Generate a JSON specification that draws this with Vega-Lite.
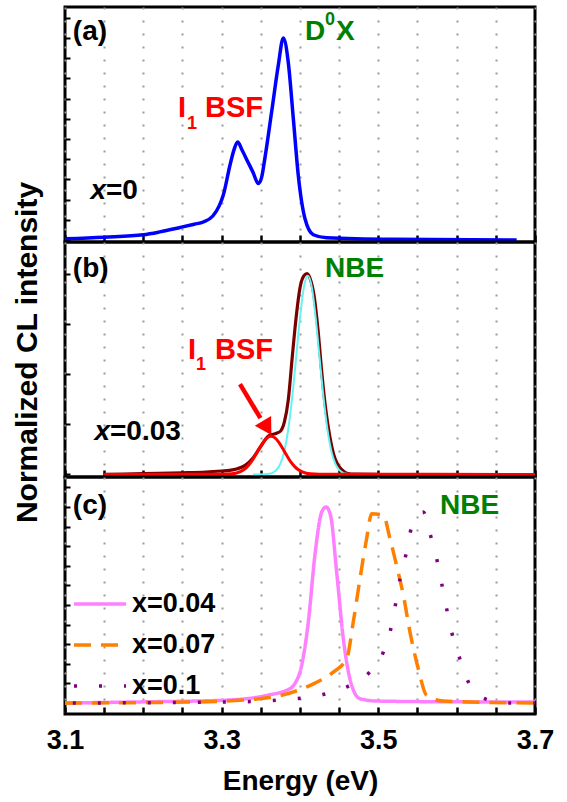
{
  "$schema": "https://vega.github.io/schema/vega-lite/v6.json",
  "padding": {"left": 10, "top": 5, "right": 5, "bottom": 0},
  "spacing": 0,
  "bounds": "flush",
  "config": {
    "font": "Liberation Sans",
    "view": {"stroke": "black", "strokeWidth": 3},
    "axis": {"labelFont": "Liberation Sans", "titleFont": "Liberation Sans", "labelFontWeight": "bold", "titleFontWeight": "bold", "labelColor": "black", "titleColor": "black"},
    "text": {"font": "Liberation Sans", "fontWeight": "bold", "fontSize": 28, "align": "left", "baseline": "alphabetic"}
  },
  "vconcat": [
    {
      "width": 470, "height": 235,
      "layer": [
        {
          "data": {"values": [
            {"E": 3.1, "v": 0.006}, {"E": 3.15, "v": 0.014}, {"E": 3.2, "v": 0.026}, {"E": 3.221, "v": 0.04},
            {"E": 3.247, "v": 0.062}, {"E": 3.265, "v": 0.078}, {"E": 3.2766, "v": 0.089}, {"E": 3.289, "v": 0.12},
            {"E": 3.297, "v": 0.17}, {"E": 3.302, "v": 0.221}, {"E": 3.3106, "v": 0.37}, {"E": 3.316, "v": 0.45},
            {"E": 3.3204, "v": 0.485}, {"E": 3.326, "v": 0.445}, {"E": 3.333, "v": 0.39}, {"E": 3.34, "v": 0.335},
            {"E": 3.3468, "v": 0.279}, {"E": 3.351, "v": 0.31}, {"E": 3.355, "v": 0.40}, {"E": 3.3638, "v": 0.634},
            {"E": 3.3723, "v": 0.865}, {"E": 3.3787, "v": 1.0}, {"E": 3.385, "v": 0.88}, {"E": 3.3915, "v": 0.60},
            {"E": 3.3978, "v": 0.32}, {"E": 3.4064, "v": 0.105}, {"E": 3.417, "v": 0.026}, {"E": 3.434, "v": 0.011},
            {"E": 3.519, "v": 0.003}, {"E": 3.6766, "v": 0.0}
          ]},
          "mark": {"type": "line", "color": "#0000ff", "strokeWidth": 3.5, "interpolate": "monotone"},
          "encoding": {
            "x": {"field": "E", "type": "quantitative", "scale": {"domain": [3.1, 3.7], "nice": false, "zero": false},
                  "axis": {"values": [3.1,3.15,3.2,3.25,3.3,3.35,3.4,3.45,3.5,3.55,3.6,3.65,3.7], "tickCount": 30, "labels": false, "title": null, "domain": false, "grid": true, "gridDash": [2, 11], "gridColor": "#9a9a9a", "gridWidth": 2, "tickSize": -7, "tickWidth": 2.5, "tickColor": "black"}},
            "y": {"field": "v", "type": "quantitative", "scale": {"domain": [-0.01, 1.153], "nice": false, "zero": false},
                  "axis": {"values": [0,0.1,0.2,0.3,0.4,0.5,0.6,0.7,0.8,0.9,1.0,1.1], "tickCount": 30, "labels": false, "title": null, "domain": false, "grid": false, "tickSize": -5, "tickWidth": 2, "tickColor": "black", "minExtent": 0}}
          }
        },
        {"data": {"values": [{}]}, "mark": {"type": "text", "text": "(a)", "color": "black"}, "encoding": {"x": {"datum": 3.110}, "y": {"datum": 0.99}}},
        {"data": {"values": [{}]}, "mark": {"type": "text", "text": "x", "color": "black", "fontStyle": "italic", "align": "right"}, "encoding": {"x": {"datum": 3.1523}, "y": {"datum": 0.203}}},
        {"data": {"values": [{}]}, "mark": {"type": "text", "text": "=0", "color": "black"}, "encoding": {"x": {"datum": 3.1523}, "y": {"datum": 0.203}}},
        {"data": {"values": [{}]}, "mark": {"type": "text", "text": "I", "color": "#ff0000", "fontSize": 29}, "encoding": {"x": {"datum": 3.2443}, "y": {"datum": 0.609}}},
        {"data": {"values": [{}]}, "mark": {"type": "text", "text": "1", "color": "#ff0000", "fontSize": 18}, "encoding": {"x": {"datum": 3.2557}, "y": {"datum": 0.549}}},
        {"data": {"values": [{}]}, "mark": {"type": "text", "text": "BSF", "color": "#ff0000", "fontSize": 29}, "encoding": {"x": {"datum": 3.2787}, "y": {"datum": 0.609}}},
        {"data": {"values": [{}]}, "mark": {"type": "text", "text": "D", "color": "#008000"}, "encoding": {"x": {"datum": 3.4064}, "y": {"datum": 0.99}}},
        {"data": {"values": [{}]}, "mark": {"type": "text", "text": "0", "color": "#008000", "fontSize": 18}, "encoding": {"x": {"datum": 3.4319}, "y": {"datum": 1.064}}},
        {"data": {"values": [{}]}, "mark": {"type": "text", "text": "X", "color": "#008000"}, "encoding": {"x": {"datum": 3.446}, "y": {"datum": 0.99}}}
      ]
    },
    {
      "width": 470, "height": 235,
      "layer": [
        {
          "data": {"values": [
            {"E": 3.15, "v": 0.0}, {"E": 3.2, "v": 0.004}, {"E": 3.25, "v": 0.008}, {"E": 3.28, "v": 0.012},
            {"E": 3.3, "v": 0.017}, {"E": 3.31, "v": 0.02}, {"E": 3.32, "v": 0.028}, {"E": 3.33, "v": 0.045},
            {"E": 3.34, "v": 0.082}, {"E": 3.35, "v": 0.14}, {"E": 3.36, "v": 0.192}, {"E": 3.37, "v": 0.205},
            {"E": 3.375, "v": 0.215}, {"E": 3.38, "v": 0.26}, {"E": 3.385, "v": 0.37}, {"E": 3.39, "v": 0.58},
            {"E": 3.395, "v": 0.78}, {"E": 3.4, "v": 0.93}, {"E": 3.405, "v": 0.99}, {"E": 3.409, "v": 1.0},
            {"E": 3.413, "v": 0.975}, {"E": 3.418, "v": 0.89}, {"E": 3.423, "v": 0.72}, {"E": 3.428, "v": 0.5},
            {"E": 3.433, "v": 0.32}, {"E": 3.438, "v": 0.19}, {"E": 3.443, "v": 0.1}, {"E": 3.448, "v": 0.05},
            {"E": 3.453, "v": 0.025}, {"E": 3.46, "v": 0.006}, {"E": 3.47, "v": 0.001}, {"E": 3.5, "v": 0.0}
          ]},
          "mark": {"type": "line", "color": "#7a0000", "strokeWidth": 3.2, "interpolate": "monotone"},
          "encoding": {
            "x": {"field": "E", "type": "quantitative", "scale": {"domain": [3.1, 3.7], "nice": false, "zero": false},
                  "axis": {"values": [3.1,3.15,3.2,3.25,3.3,3.35,3.4,3.45,3.5,3.55,3.6,3.65,3.7], "tickCount": 30, "labels": false, "title": null, "domain": false, "grid": true, "gridDash": [2, 11], "gridColor": "#9a9a9a", "gridWidth": 2, "tickSize": -7, "tickWidth": 2.5, "tickColor": "black"}},
            "y": {"field": "v", "type": "quantitative", "scale": {"domain": [-0.013, 1.158], "nice": false, "zero": false},
                  "axis": {"values": [0,0.25,0.5,0.75,1.0], "tickCount": 30, "labels": false, "title": "Normalized CL intensity", "titleFontSize": 30, "titlePadding": 22, "titleY": 110, "domain": false, "grid": false, "tickSize": -5, "tickWidth": 2, "tickColor": "black", "minExtent": 0}}
          }
        },
        {
          "data": {"values": [
            {"E": 3.34, "v": 0.0}, {"E": 3.355, "v": 0.001}, {"E": 3.36, "v": 0.003}, {"E": 3.365, "v": 0.008},
            {"E": 3.37, "v": 0.022}, {"E": 3.375, "v": 0.054}, {"E": 3.38, "v": 0.116}, {"E": 3.385, "v": 0.224},
            {"E": 3.39, "v": 0.382}, {"E": 3.395, "v": 0.579}, {"E": 3.4, "v": 0.78}, {"E": 3.405, "v": 0.933},
            {"E": 3.41, "v": 0.99}, {"E": 3.415, "v": 0.933}, {"E": 3.42, "v": 0.78}, {"E": 3.425, "v": 0.579},
            {"E": 3.43, "v": 0.382}, {"E": 3.435, "v": 0.224}, {"E": 3.44, "v": 0.116}, {"E": 3.445, "v": 0.054},
            {"E": 3.45, "v": 0.022}, {"E": 3.455, "v": 0.008}, {"E": 3.46, "v": 0.003}, {"E": 3.465, "v": 0.001},
            {"E": 3.48, "v": 0.0}
          ]},
          "mark": {"type": "line", "color": "#66f2f2", "strokeWidth": 2, "interpolate": "monotone"},
          "encoding": {"x": {"field": "E", "type": "quantitative"}, "y": {"field": "v", "type": "quantitative"}}
        },
        {
          "data": {"values": [
            {"E": 3.15, "v": 0.0}, {"E": 3.3, "v": 0.001}, {"E": 3.313, "v": 0.003}, {"E": 3.318, "v": 0.006},
            {"E": 3.323, "v": 0.012}, {"E": 3.328, "v": 0.023}, {"E": 3.333, "v": 0.04}, {"E": 3.338, "v": 0.064},
            {"E": 3.343, "v": 0.095}, {"E": 3.348, "v": 0.129}, {"E": 3.353, "v": 0.16}, {"E": 3.358, "v": 0.182},
            {"E": 3.363, "v": 0.19}, {"E": 3.368, "v": 0.182}, {"E": 3.373, "v": 0.16}, {"E": 3.378, "v": 0.129},
            {"E": 3.383, "v": 0.095}, {"E": 3.388, "v": 0.064}, {"E": 3.393, "v": 0.04}, {"E": 3.398, "v": 0.023},
            {"E": 3.403, "v": 0.012}, {"E": 3.408, "v": 0.006}, {"E": 3.413, "v": 0.003}, {"E": 3.425, "v": 0.001},
            {"E": 3.7, "v": 0.0}
          ]},
          "mark": {"type": "line", "color": "#ff0000", "strokeWidth": 3, "interpolate": "monotone"},
          "encoding": {"x": {"field": "E", "type": "quantitative"}, "y": {"field": "v", "type": "quantitative"}}
        },
        {"data": {"values": [{}]}, "mark": {"type": "rule", "color": "#ff0000", "strokeWidth": 4.5}, "encoding": {"x": {"datum": 3.3234}, "y": {"datum": 0.45}, "x2": {"datum": 3.3495}, "y2": {"datum": 0.28}}},
        {"data": {"values": [{}]}, "mark": {"type": "point", "shape": "triangle", "filled": true, "color": "#ff0000", "opacity": 1, "size": 360, "angle": 149}, "encoding": {"x": {"datum": 3.3563}, "y": {"datum": 0.243}}},
        {"data": {"values": [{}]}, "mark": {"type": "text", "text": "(b)", "color": "black"}, "encoding": {"x": {"datum": 3.110}, "y": {"datum": 0.984}}},
        {"data": {"values": [{}]}, "mark": {"type": "text", "text": "NBE", "color": "#008000"}, "encoding": {"x": {"datum": 3.4319}, "y": {"datum": 0.984}}},
        {"data": {"values": [{}]}, "mark": {"type": "text", "text": "I", "color": "#ff0000", "fontSize": 29}, "encoding": {"x": {"datum": 3.257}, "y": {"datum": 0.575}}},
        {"data": {"values": [{}]}, "mark": {"type": "text", "text": "1", "color": "#ff0000", "fontSize": 18}, "encoding": {"x": {"datum": 3.2672}, "y": {"datum": 0.52}}},
        {"data": {"values": [{}]}, "mark": {"type": "text", "text": "BSF", "color": "#ff0000", "fontSize": 29}, "encoding": {"x": {"datum": 3.2915}, "y": {"datum": 0.575}}},
        {"data": {"values": [{}]}, "mark": {"type": "text", "text": "x", "color": "black", "fontStyle": "italic", "align": "right"}, "encoding": {"x": {"datum": 3.1574}, "y": {"datum": 0.171}}},
        {"data": {"values": [{}]}, "mark": {"type": "text", "text": "=0.03", "color": "black"}, "encoding": {"x": {"datum": 3.1574}, "y": {"datum": 0.171}}}
      ]
    },
    {
      "width": 470, "height": 237,
      "layer": [
        {
          "data": {"values": [
            {"s": "x=0.04", "E": 3.1, "v": 0.0}, {"s": "x=0.04", "E": 3.2, "v": 0.006}, {"s": "x=0.04", "E": 3.302, "v": 0.014},
            {"s": "x=0.04", "E": 3.3575, "v": 0.039}, {"s": "x=0.04", "E": 3.387, "v": 0.073}, {"s": "x=0.04", "E": 3.395, "v": 0.11},
            {"s": "x=0.04", "E": 3.4, "v": 0.158}, {"s": "x=0.04", "E": 3.4053, "v": 0.26}, {"s": "x=0.04", "E": 3.4106, "v": 0.413},
            {"s": "x=0.04", "E": 3.419, "v": 0.753}, {"s": "x=0.04", "E": 3.4277, "v": 0.974}, {"s": "x=0.04", "E": 3.4332, "v": 1.0},
            {"s": "x=0.04", "E": 3.439, "v": 0.957}, {"s": "x=0.04", "E": 3.4468, "v": 0.668}, {"s": "x=0.04", "E": 3.4553, "v": 0.328},
            {"s": "x=0.04", "E": 3.466, "v": 0.09}, {"s": "x=0.04", "E": 3.4766, "v": 0.022}, {"s": "x=0.04", "E": 3.498, "v": 0.01},
            {"s": "x=0.04", "E": 3.6, "v": 0.006}, {"s": "x=0.04", "E": 3.7, "v": 0.005},
            {"s": "x=0.07", "E": 3.1, "v": 0.0}, {"s": "x=0.07", "E": 3.2638, "v": 0.005}, {"s": "x=0.07", "E": 3.349, "v": 0.022},
            {"s": "x=0.07", "E": 3.4128, "v": 0.09}, {"s": "x=0.07", "E": 3.4425, "v": 0.158}, {"s": "x=0.07", "E": 3.4596, "v": 0.226},
            {"s": "x=0.07", "E": 3.468, "v": 0.413}, {"s": "x=0.07", "E": 3.4766, "v": 0.634}, {"s": "x=0.07", "E": 3.485, "v": 0.838},
            {"s": "x=0.07", "E": 3.4915, "v": 0.966}, {"s": "x=0.07", "E": 3.5064, "v": 0.957}, {"s": "x=0.07", "E": 3.5149, "v": 0.838},
            {"s": "x=0.07", "E": 3.5234, "v": 0.70}, {"s": "x=0.07", "E": 3.532, "v": 0.549}, {"s": "x=0.07", "E": 3.5404, "v": 0.362},
            {"s": "x=0.07", "E": 3.551, "v": 0.175}, {"s": "x=0.07", "E": 3.5617, "v": 0.039}, {"s": "x=0.07", "E": 3.583, "v": 0.01},
            {"s": "x=0.07", "E": 3.7, "v": 0.0},
            {"s": "x=0.1", "E": 3.11, "v": 0.0}, {"s": "x=0.1", "E": 3.3064, "v": 0.005}, {"s": "x=0.1", "E": 3.37, "v": 0.014},
            {"s": "x=0.1", "E": 3.434, "v": 0.048}, {"s": "x=0.1", "E": 3.4638, "v": 0.09}, {"s": "x=0.1", "E": 3.489, "v": 0.158},
            {"s": "x=0.1", "E": 3.5064, "v": 0.26}, {"s": "x=0.1", "E": 3.517, "v": 0.396}, {"s": "x=0.1", "E": 3.5277, "v": 0.634},
            {"s": "x=0.1", "E": 3.536, "v": 0.77}, {"s": "x=0.1", "E": 3.5426, "v": 0.898}, {"s": "x=0.1", "E": 3.5574, "v": 0.974},
            {"s": "x=0.1", "E": 3.566, "v": 0.864}, {"s": "x=0.1", "E": 3.5745, "v": 0.736}, {"s": "x=0.1", "E": 3.5809, "v": 0.609},
            {"s": "x=0.1", "E": 3.5872, "v": 0.481}, {"s": "x=0.1", "E": 3.5936, "v": 0.362}, {"s": "x=0.1", "E": 3.604, "v": 0.226},
            {"s": "x=0.1", "E": 3.6149, "v": 0.107}, {"s": "x=0.1", "E": 3.636, "v": 0.022}, {"s": "x=0.1", "E": 3.66, "v": 0.0},
            {"s": "x=0.1", "E": 3.7, "v": 0.0}
          ]},
          "mark": {"type": "line", "strokeWidth": 3.5, "interpolate": "monotone"},
          "encoding": {
            "x": {"field": "E", "type": "quantitative", "scale": {"domain": [3.1, 3.7], "nice": false, "zero": false},
                  "axis": {"values": [3.1,3.15,3.2,3.25,3.3,3.35,3.4,3.45,3.5,3.55,3.6,3.65,3.7], "tickCount": 30, "labelExpr": "(abs(datum.value*10 - round(datum.value*10)) < 0.01 && round(datum.value*10) % 2 == 1) ? format(datum.value, '.1f') : ''", "labelFontSize": 27, "labelPadding": 20, "labelFlush": false, "labelOverlap": false, "title": "Energy (eV)", "titleFontSize": 28, "titlePadding": 14, "domain": false, "grid": true, "gridDash": [2, 11], "gridColor": "#9a9a9a", "gridWidth": 2, "tickSize": -7, "tickWidth": 2.5, "tickColor": "black"}},
            "y": {"field": "v", "type": "quantitative", "scale": {"domain": [-0.056, 1.153], "nice": false, "zero": false},
                  "axis": {"values": [0,0.1,0.2,0.3,0.4,0.5,0.6,0.7,0.8,0.9,1.0,1.1], "tickCount": 30, "labels": false, "title": null, "domain": false, "grid": false, "tickSize": -5, "tickWidth": 2, "tickColor": "black", "minExtent": 0}},
            "color": {"field": "s", "type": "nominal", "scale": {"domain": ["x=0.04", "x=0.07", "x=0.1"], "range": ["#ff80ff", "#ff8000", "#800080"]},
                      "legend": {"orient": "none", "legendX": 7, "legendY": 569, "title": null, "symbolType": "stroke", "symbolSize": 2700, "symbolStrokeWidth": 3.5, "labelFont": "Liberation Sans", "labelFontSize": 27, "labelFontWeight": "bold", "labelColor": "black", "labelOffset": 4, "rowPadding": -17.5, "padding": 0}},
            "strokeDash": {"field": "s", "type": "nominal", "scale": {"domain": ["x=0.04", "x=0.07", "x=0.1"], "range": [[1, 0], [17, 10], [3, 22]]},
                      "legend": {"orient": "none", "legendX": 7, "legendY": 569, "title": null, "symbolType": "stroke", "symbolSize": 2700, "symbolStrokeWidth": 3.5, "labelFont": "Liberation Sans", "labelFontSize": 27, "labelFontWeight": "bold", "labelColor": "black", "labelOffset": 4, "rowPadding": -17.5, "padding": 0}}
          }
        },
        {"data": {"values": [{}]}, "mark": {"type": "text", "text": "(c)", "color": "black"}, "encoding": {"x": {"datum": 3.110}, "y": {"datum": 0.964}}},
        {"data": {"values": [{}]}, "mark": {"type": "text", "text": "NBE", "color": "#008000"}, "encoding": {"x": {"datum": 3.5787}, "y": {"datum": 0.964}}}
      ]
    }
  ]
}
